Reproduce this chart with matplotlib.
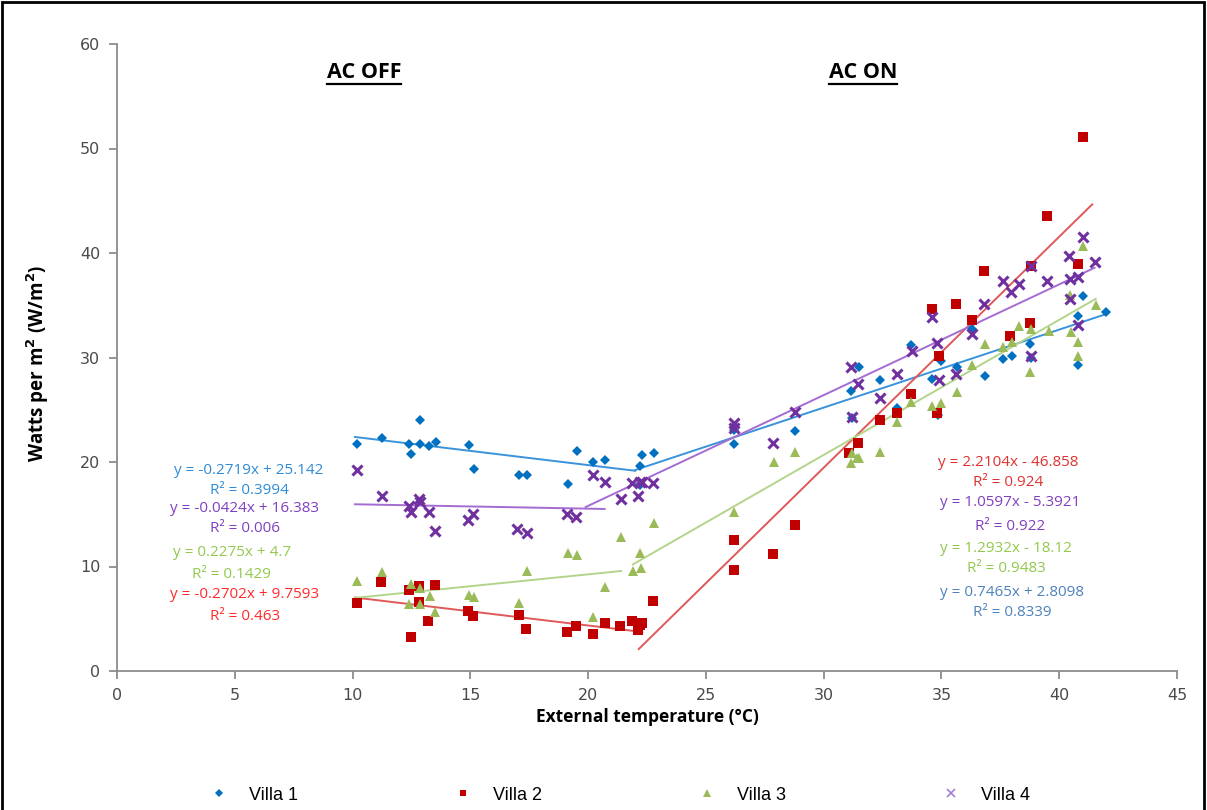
import matplotlib
matplotlib.use('Agg')
import matplotlib.pyplot as plt
from matplotlib.patches import Rectangle
from matplotlib.lines import Line2D

# --- data ---
v1_x = [10.2, 11.25, 12.4, 12.5, 12.86, 12.86, 13.24, 13.54, 14.94, 15.15, 17.06, 17.4, 19.14, 19.52,
        20.2, 20.71, 22.28, 22.2, 22.79, 22.2,
        26.2, 26.2, 28.8, 31.15, 31.5, 31.2, 32.4, 33.1, 33.7, 34.6, 35.0, 34.85, 35.65, 36.3, 36.85,
        37.6, 38.0, 38.75, 38.8, 40.8, 41.0, 40.8, 42.0]
v1_y = [21.7, 22.3, 21.7, 20.8, 24.0, 21.7, 21.5, 21.9, 21.6, 19.3, 18.8, 18.8, 17.9, 21.1,
        20.0, 20.2, 20.7, 19.6, 20.9, 17.8,
        23.1, 21.7, 23.0, 26.8, 29.1, 24.2, 27.8, 25.2, 31.2, 27.9, 29.7, 24.5, 29.1, 32.7, 28.2,
        29.9, 30.1, 31.3, 30.0, 34.0, 35.9, 29.3, 34.4]

v2_x = [10.2, 11.2, 12.4, 12.8, 12.5, 12.8, 13.2, 13.5, 14.9, 15.1, 17.06, 17.36, 19.1, 19.5,
        20.2, 20.7, 21.35, 21.86, 22.1, 22.3, 22.2, 22.75,
        26.2, 26.2, 27.85, 28.8, 31.45, 31.07, 32.4, 33.1, 33.7, 34.8, 34.9, 34.6, 35.6, 36.3, 36.8,
        37.9, 38.75, 38.8, 39.5, 40.8, 41.0]
v2_y = [6.5, 8.5, 7.75, 8.1, 3.25, 6.6, 4.8, 8.2, 5.75, 5.25, 5.4, 4.0, 3.7, 4.3,
        3.55, 4.6, 4.3, 4.8, 3.9, 4.6, 4.4, 6.7,
        12.5, 9.7, 11.2, 14.0, 21.8, 20.9, 24.0, 24.7, 26.5, 24.7, 30.1, 34.6, 35.1, 33.6, 38.3,
        32.1, 33.3, 38.8, 43.5, 38.9, 51.1]

v3_x = [10.2, 11.25, 12.5, 12.86, 12.4, 12.86, 13.3, 13.5, 14.94, 15.15, 17.4, 17.06, 19.14, 19.52,
        20.2, 20.71, 21.4, 21.9, 22.2, 22.24, 22.8,
        26.2, 27.9, 28.8, 31.15, 31.4, 31.2, 32.4, 31.5, 33.1, 33.7, 34.6, 35.0, 35.65, 36.3, 36.85,
        37.6, 38.0, 38.3, 38.8, 38.75, 39.55, 40.5, 40.45, 40.8, 40.8, 41.0, 41.55]
v3_y = [8.6, 9.5, 8.3, 7.9, 6.4, 6.4, 7.2, 5.6, 7.3, 7.1, 9.6, 6.5, 11.3, 11.1,
        5.2, 8.0, 12.8, 9.6, 11.3, 9.9, 14.2,
        15.2, 20.0, 21.0, 19.9, 20.4, 20.9, 21.0, 20.4, 23.8, 25.7, 25.4, 25.6, 26.7, 29.3, 31.3,
        31.0, 31.5, 33.0, 32.7, 28.6, 32.5, 32.4, 36.0, 31.5, 30.1, 40.7, 35.0]

v4_x = [10.2, 11.25, 12.4, 12.5, 12.8, 12.86, 13.24, 13.5, 14.9, 15.1, 17.0, 17.4, 19.1, 19.5,
        20.2, 20.7, 21.4, 21.86, 22.1, 22.2, 22.28, 22.75,
        26.2, 26.2, 27.85, 28.8, 31.15, 31.45, 31.2, 32.4, 33.1, 33.75, 34.6, 34.8, 34.9, 35.6, 36.3,
        36.8, 37.6, 37.95, 38.3, 38.8, 38.8, 39.5, 40.4, 40.45, 40.45, 40.8, 40.8, 41.0, 41.5]
v4_y = [19.2, 16.7, 15.8, 15.2, 16.5, 16.2, 15.2, 13.4, 14.45, 15.0, 13.6, 13.2, 15.0, 14.7,
        18.75, 18.1, 16.5, 18.0, 16.7, 18.1, 18.1, 18.0,
        23.7, 23.3, 21.8, 24.8, 29.1, 27.5, 24.3, 26.1, 28.4, 30.6, 33.9, 31.4, 27.8, 28.4, 32.25,
        35.1, 37.3, 36.3, 37.0, 38.75, 30.1, 37.3, 39.7, 37.5, 35.6, 37.7, 33.1, 41.5, 39.1]

villas = ['Villa 1', 'Villa 2', 'Villa 3', 'Villa 4']

# trendlines: (slope, intercept, x start, x end)
off_fits = [(-0.2719, 25.142, 10.1, 22.0), (-0.2702, 9.7593, 10.1, 22.3),
            (0.2275, 4.7, 10.1, 21.4), (-0.0424, 16.383, 10.1, 20.7)]
on_fits = [(0.7465, 2.8098, 22.0, 42.0), (2.2104, -46.858, 22.15, 41.4),
           (1.2932, -18.12, 21.9, 41.55), (1.0597, -5.3921, 19.9, 41.5)]

off_labels = [('y = -0.2719x + 25.142', 'R² = 0.3994'),
              ('y = -0.2702x + 9.7593', 'R² = 0.463'),
              ('y = 0.2275x + 4.7', 'R² = 0.1429'),
              ('y = -0.0424x + 16.383', 'R² = 0.006')]
on_labels = [('y = 0.7465x + 2.8098', 'R² = 0.8339'),
             ('y = 2.2104x - 46.858', 'R² = 0.924'),
             ('y = 1.2932x - 18.12', 'R² = 0.9483'),
             ('y = 1.0597x - 5.3921', 'R² = 0.922')]

# --- styling ---
mk_col = ['#0070C0', '#C00000', '#9BBB59', '#7030A0']
leg_col = ['#0070C0', '#C00000', '#9BBB59', '#A37FD6']
ln_col = ['#3A93DA', '#E05858', '#B3D48A', '#A46CD2']
off_txt_col = ['#2E8BD8', '#FF2A2A', '#92C84E', '#8040C0']
on_txt_col = ['#4F81BD', '#E03030', '#92C84E', '#8040C0']
markers = ['D', 's', '^', 'x']
msizes = [5.5, 6.5, 7.5, 7]

# text positions in pixels (centre x, y) for eq / R² lines
off_pos = [(249, 471, 491), (245, 595, 616), (232, 553, 575), (245, 509, 529)]
on_pos = [(1012, 593, 613), (1008, 462, 482), (1006, 548, 568), (1010, 503, 527)]

W, H = 1207, 810
fig = plt.figure(figsize=(W / 100, H / 100), dpi=100)
ax = fig.add_axes([117 / W, 1 - 671 / H, (1177 - 117) / W, (671 - 44) / H])

xs = [v1_x, v2_x, v3_x, v4_x]
ys = [v1_y, v2_y, v3_y, v4_y]
for i in range(4):
    for (m, b, x0, x1) in (off_fits[i], on_fits[i]):
        ax.plot([x0, x1], [m * x0 + b, m * x1 + b], color=ln_col[i], lw=1.4, zorder=2)
for i in range(4):
    if markers[i] == 'x':
        ax.plot(xs[i], ys[i], ls='none', marker='x', ms=msizes[i], mew=2.2,
                color=mk_col[i], zorder=3)
    else:
        ax.plot(xs[i], ys[i], ls='none', marker=markers[i], ms=msizes[i], mew=0,
                color=mk_col[i], zorder=3)

ax.set_xlim(0, 45)
ax.set_ylim(0, 60)
ax.set_xticks(range(0, 46, 5))
ax.set_yticks(range(0, 61, 10))
for s in ['top', 'right']:
    ax.spines[s].set_visible(False)
for s in ['left', 'bottom']:
    ax.spines[s].set_color('#8C8C8C')
    ax.spines[s].set_linewidth(1.3)
ax.tick_params(colors='#8C8C8C', length=6, width=1.3, direction='out', pad=6)
for lab in ax.get_xticklabels() + ax.get_yticklabels():
    lab.set_color('#4A4A4A')
    lab.set_fontsize(11.5)
    lab.set_family('DejaVu Sans')

ax.set_xlabel('External temperature (°C)', fontsize=12.5, fontweight='bold',
              family='Open Sans', labelpad=4)
ax.set_ylabel('Watts per m$^\\mathbf{2}$ (W/m$^\\mathbf{2}$)', fontsize=13.5, fontweight='bold',
              family='Open Sans')
ax.yaxis.set_label_coords(-0.062, 0.49)


def px2data(px, py):
    return (px - 117) / ((1177 - 117) / 45), (671 - py) / ((671 - 44) / 60)


for i in range(4):
    for pos, lab, col in ((off_pos[i], off_labels[i], off_txt_col[i]),
                          (on_pos[i], on_labels[i], on_txt_col[i])):
        cx, ye, yr = pos
        x, y = px2data(cx, ye)
        ax.text(x, y, lab[0], color=col, fontsize=11, ha='center', va='center',
                family='Open Sans')
        x, y = px2data(cx, yr)
        ax.text(x, y, lab[1], color=col, fontsize=11, ha='center', va='center',
                family='Open Sans')

# section headers
for txt, cx in (('AC OFF', 364), ('AC ON', 863)):
    x, y = px2data(cx, 72)
    ax.text(x, y, txt, fontsize=15.5, fontweight='bold', ha='center', va='center',
            family='Open Sans')

fig.canvas.draw()
r = fig.canvas.get_renderer()
for t in ax.texts:
    if t.get_text() in ('AC OFF', 'AC ON'):
        bb = t.get_window_extent(r)
        fig.add_artist(Line2D([bb.x0 / W, bb.x1 / W], [(bb.y0 - 1) / H, (bb.y0 - 1) / H],
                              color='black', lw=1.6, transform=fig.transFigure))

# legend handles (smaller, Excel-like)
handles = []
for i in range(4):
    if markers[i] == 'x':
        h = Line2D([], [], ls='none', marker='x', ms=5.5, mew=1.2, color=leg_col[i])
    else:
        h = Line2D([], [], ls='none', marker=markers[i], ms=msizes[i] * 0.7, mew=0, color=leg_col[i])
    handles.append(h)
fig.legend(handles, villas, loc='center', bbox_to_anchor=(0.512, 1 - 795 / H), ncol=4,
           frameon=False, columnspacing=8.4, handletextpad=0.9, handlelength=1.5,
           prop={'family': 'Liberation Sans', 'size': 13})

# black frame around the chart area (open at the bottom)
fig.add_artist(Rectangle((2 / W, -0.05), 1 - 5 / W, 1.05 - 2 / H, transform=fig.transFigure,
                         fill=False, ec='black', lw=2))

fig.savefig('out.png', dpi=100)
